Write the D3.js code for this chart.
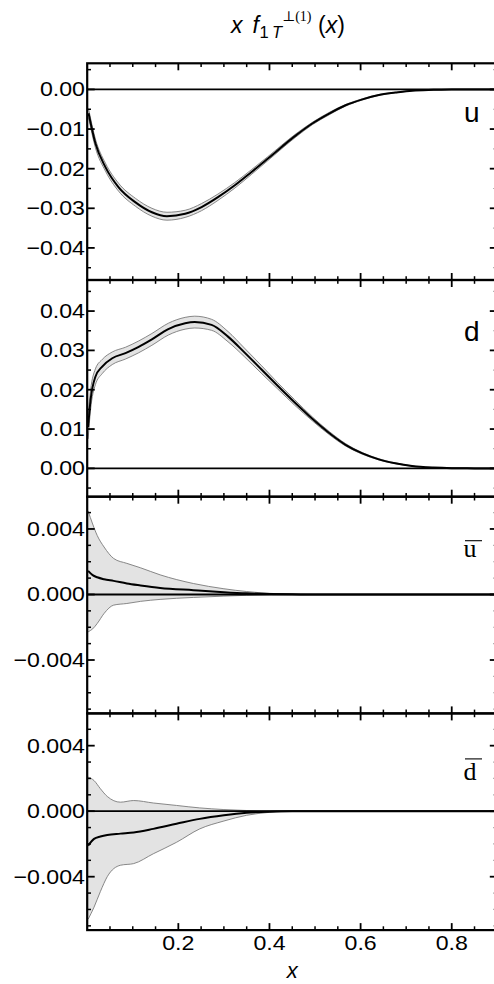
<!DOCTYPE html>
<html>
<head>
<meta charset="utf-8">
<script src="https://cdn.jsdelivr.net/npm/d3@7"></script>
<style>
  html, body { margin: 0; padding: 0; background: #fff; }
  svg { display: block; }
  text { font-family: "Liberation Sans", Arial, sans-serif; fill: #000; }
</style>
</head>
<body>
<svg id="chart" width="494" height="984"></svg>
<script>
// ---------------- data ----------------
// x f_1T^{perp(1)}(x), panel u
const uX   = [0.003, 0.018, 0.04, 0.069, 0.106, 0.142, 0.175, 0.215, 0.251, 0.287, 0.324, 0.36, 0.396, 0.458, 0.494, 0.531, 0.567, 0.604, 0.64, 0.676, 0.713, 0.76, 0.8, 0.85, 0.9];
const uMid = [-0.006, -0.0136, -0.0196, -0.0247, -0.0285, -0.031, -0.032, -0.0314, -0.0297, -0.0272, -0.0242, -0.0209, -0.0175, -0.0116, -0.0086, -0.0061, -0.004, -0.0025, -0.0014, -0.0008, -0.0003, -0.0001, 0, 0, 0];
const uErr = [0.0011, 0.0011, 0.001, 0.001, 0.001, 0.001, 0.001, 0.0009, 0.0009, 0.0008, 0.0007, 0.0006, 0.0005, 0.0004, 0.0003, 0.0003, 0.0002, 0.00015, 0.0001, 0.00005, 0.00003, 0.00001, 0, 0, 0];

// panel d
const dX   = [0.002, 0.0074, 0.018, 0.033, 0.055, 0.084, 0.113, 0.142, 0.178, 0.215, 0.236, 0.273, 0.309, 0.345, 0.382, 0.418, 0.455, 0.494, 0.531, 0.567, 0.604, 0.64, 0.676, 0.713, 0.76, 0.8, 0.85, 0.9];
const dMid = [0.0105, 0.0174, 0.0233, 0.0259, 0.028, 0.0293, 0.0309, 0.0328, 0.0354, 0.0369, 0.0372, 0.0365, 0.0335, 0.0295, 0.0252, 0.021, 0.0168, 0.0126, 0.009, 0.006, 0.0038, 0.0023, 0.0013, 0.0006, 0.0002, 0.00005, 0, 0];
const dErr = [0.003, 0.0025, 0.002, 0.0018, 0.0016, 0.0015, 0.0015, 0.0015, 0.0015, 0.0015, 0.0015, 0.0014, 0.0013, 0.0011, 0.001, 0.0008, 0.0007, 0.0005, 0.0004, 0.0003, 0.0002, 0.00015, 0.0001, 0.00005, 0.00002, 0, 0, 0];

// panel u-bar
const ubX   = [0.002, 0.012, 0.022, 0.037, 0.058, 0.087, 0.117, 0.16, 0.233, 0.3, 0.35, 0.4, 0.45, 0.5, 0.9];
const ubMid = [0.00144, 0.00118, 0.00105, 0.00093, 0.00083, 0.00067, 0.00055, 0.0004, 0.00026, 0.00014, 0.00007, 0.00003, 0.00001, 0, 0];
const ubHi  = [0.0051, 0.0043, 0.0036, 0.0029, 0.0022, 0.0019, 0.00163, 0.0012, 0.00067, 0.00035, 0.00018, 0.00007, 0.00002, 0, 0];
const ubLo  = [-0.00228, -0.0021, -0.00177, -0.00116, -0.00065, -0.00055, -0.00042, -0.0003, -0.00018, -0.0001, -0.00005, -0.00002, -0.00001, 0, 0];

// panel d-bar
const dbX   = [0.002, 0.015, 0.029, 0.044, 0.073, 0.102, 0.145, 0.196, 0.247, 0.3, 0.35, 0.4, 0.45, 0.9];
const dbMid = [-0.0021, -0.00169, -0.00155, -0.00145, -0.00137, -0.0013, -0.00108, -0.00077, -0.00047, -0.00025, -0.0001, -0.00003, 0, 0];
const dbHi  = [0.00208, 0.00187, 0.00137, 0.0009, 0.00055, 0.00065, 0.0005, 0.00035, 0.0002, 0.0001, 0.00004, 0.00001, 0, 0];
const dbLo  = [-0.0066, -0.00586, -0.0049, -0.004, -0.0033, -0.0032, -0.0026, -0.0019, -0.00108, -0.0006, -0.00025, -0.00007, 0, 0];

// axes
const xDomain = [0, 0.9];
const xTicksMajor = [0.2, 0.4, 0.6, 0.8];
const xTickLabels = ["0.2", "0.4", "0.6", "0.8"];
const yDomainU  = [-0.0481, 0.0066];
const yDomainD  = [-0.0072, 0.0479];
const yDomainSea = [-0.00726, 0.00597];
const yTicksU  = [0, -0.01, -0.02, -0.03, -0.04];
const yLabelsU = ["0.00", "\u22120.01", "\u22120.02", "\u22120.03", "\u22120.04"];
const yTicksD  = [0.04, 0.03, 0.02, 0.01, 0];
const yLabelsD = ["0.04", "0.03", "0.02", "0.01", "0.00"];
const yTicksSea  = [0.004, 0, -0.004];
const yLabelsSea = ["0.004", "0.000", "\u22120.004"];
const panelNames = ["u", "d", "u", "d"];

// ---------------- layout ----------------
const svg = d3.select("#chart");
const L = 87.2, R = 497.3;
const top0 = 63.3, pH = 216.7;
const x = d3.scaleLinear().domain(xDomain).range([L, R]);
const labelFont = 20.5, labelStretch = 1.13;

const panels = [
  { xs: uX,  mid: uMid,  lo: uMid.map((v,i)=>v-uErr[i]), hi: uMid.map((v,i)=>v+uErr[i]), dom: yDomainU, ticks: yTicksU, labels: yLabelsU, minorStep: 0.005, name: panelNames[0], bar: false },
  { xs: dX,  mid: dMid,  lo: dMid.map((v,i)=>v-dErr[i]), hi: dMid.map((v,i)=>v+dErr[i]), dom: yDomainD, ticks: yTicksD, labels: yLabelsD, minorStep: 0.005, name: panelNames[1], bar: false },
  { xs: ubX, mid: ubMid, lo: ubLo, hi: ubHi, dom: yDomainSea, ticks: yTicksSea, labels: yLabelsSea, minorStep: 0.001, name: panelNames[2], bar: true },
  { xs: dbX, mid: dbMid, lo: dbLo, hi: dbHi, dom: yDomainSea, ticks: yTicksSea, labels: yLabelsSea, minorStep: 0.001, name: panelNames[3], bar: true }
];

const defs = svg.append("defs");

panels.forEach((p, k) => {
  const t = top0 + k * pH, b = t + pH;
  const y = d3.scaleLinear().domain(p.dom).range([b, t]);
  const g = svg.append("g");
  defs.append("clipPath").attr("id", "clip" + k)
    .append("rect").attr("x", L).attr("y", t).attr("width", R - L).attr("height", pH);
  const pg = g.append("g").attr("clip-path", `url(#clip${k})`);
  const idx = d3.range(p.xs.length);
  const area = d3.area().curve(d3.curveMonotoneX)
    .x(i => x(p.xs[i])).y0(i => y(p.lo[i])).y1(i => y(p.hi[i]));
  pg.append("path").attr("d", area(idx)).attr("fill", "#e3e3e3").attr("stroke", "none");
  const lineLo = d3.line().curve(d3.curveMonotoneX).x(i => x(p.xs[i])).y(i => y(p.lo[i]));
  const lineHi = d3.line().curve(d3.curveMonotoneX).x(i => x(p.xs[i])).y(i => y(p.hi[i]));
  pg.append("path").attr("d", lineLo(idx)).attr("fill", "none").attr("stroke", "#7a7a7a").attr("stroke-width", 0.9);
  pg.append("path").attr("d", lineHi(idx)).attr("fill", "none").attr("stroke", "#7a7a7a").attr("stroke-width", 0.9);
  // zero line
  pg.append("line").attr("x1", L).attr("x2", R).attr("y1", y(0)).attr("y2", y(0))
    .attr("stroke", "#000").attr("stroke-width", 1.8);
  // central line
  const lineMid = d3.line().curve(d3.curveMonotoneX).x(i => x(p.xs[i])).y(i => y(p.mid[i]));
  pg.append("path").attr("d", lineMid(idx)).attr("fill", "none").attr("stroke", "#000").attr("stroke-width", 2);

  // frame
  g.append("rect").attr("x", L).attr("y", t).attr("width", R - L).attr("height", pH)
    .attr("fill", "none").attr("stroke", "#000").attr("stroke-width", 2.2);

  // x ticks (top & bottom, inward)
  const xMinor = d3.range(0.05, 0.9, 0.05).filter(v => !xTicksMajor.some(m => Math.abs(m - v) < 1e-6));
  xTicksMajor.forEach(v => {
    g.append("line").attr("x1", x(v)).attr("x2", x(v)).attr("y1", t).attr("y2", t + 7).attr("stroke", "#000").attr("stroke-width", 1.8);
    g.append("line").attr("x1", x(v)).attr("x2", x(v)).attr("y1", b).attr("y2", b - 7).attr("stroke", "#000").attr("stroke-width", 1.8);
  });
  xMinor.forEach(v => {
    g.append("line").attr("x1", x(v)).attr("x2", x(v)).attr("y1", t).attr("y2", t + 3.8).attr("stroke", "#000").attr("stroke-width", 1.5);
    g.append("line").attr("x1", x(v)).attr("x2", x(v)).attr("y1", b).attr("y2", b - 3.8).attr("stroke", "#000").attr("stroke-width", 1.5);
  });

  // y ticks (left & right, inward)
  const yMin = p.dom[0], yMax = p.dom[1];
  const n0 = Math.ceil(yMin / p.minorStep - 1e-9), n1 = Math.floor(yMax / p.minorStep + 1e-9);
  d3.range(n0, n1 + 1).map(n => n * p.minorStep).forEach(v => {
    const isMajor = p.ticks.some(m => Math.abs(m - v) < 1e-9);
    const len = isMajor ? 7.5 : 3.8;
    g.append("line").attr("x1", L).attr("x2", L + len).attr("y1", y(v)).attr("y2", y(v)).attr("stroke", "#000").attr("stroke-width", isMajor ? 1.8 : 1.5);
    g.append("line").attr("x1", R).attr("x2", R - len).attr("y1", y(v)).attr("y2", y(v)).attr("stroke", isMajor ? "#000" : "#666").attr("stroke-width", isMajor ? 1.8 : 1.2);
  });
  p.ticks.forEach((v, i) => {
    g.append("text").attr("transform", `translate(85,${y(v) + 7}) scale(${labelStretch},1)`)
      .attr("text-anchor", "end").attr("font-size", labelFont).text(p.labels[i]);
  });

  // panel label
  if (!p.bar) {
    g.append("text").attr("x", 464).attr("y", t + (k === 0 ? 59 : 60.5)).attr("font-size", 28).text(p.name);
  } else {
    const by = k === 2 ? t + 60.5 : t + 67;
    g.append("text").attr("x", 463.5).attr("y", by).attr("font-size", 26)
      .style("font-family", "'Liberation Serif', 'DejaVu Serif', serif").text(p.name);
    const oy = k === 2 ? by - 16.5 : by - 21.5;
    g.append("line").attr("x1", 465).attr("x2", 482).attr("y1", oy).attr("y2", oy).attr("stroke", "#000").attr("stroke-width", 1.1);
  }
});

// bottom tick labels
const bottom = top0 + 4 * pH;
xTicksMajor.forEach((v, i) => {
  svg.append("text").attr("transform", `translate(${x(v)},${bottom + 20}) scale(${labelStretch},1)`)
    .attr("text-anchor", "middle").attr("font-size", labelFont).text(xTickLabels[i]);
});
svg.append("text").attr("x", (L + R) / 2).attr("y", 978).attr("text-anchor", "middle")
  .attr("font-size", 22).attr("font-style", "italic").text("x");

// title
const title = svg.append("g");
title.append("text").attr("x", 231).attr("y", 33.3).attr("font-size", 23).attr("font-style", "italic").text("x");
title.append("text").attr("x", 252.5).attr("y", 33.3).attr("font-size", 23).attr("font-style", "italic").text("f");
title.append("text").attr("x", 259.5).attr("y", 38.3).attr("font-size", 16.5).text("1");
title.append("text").attr("x", 272).attr("y", 38.3).attr("font-size", 16.5).attr("font-style", "italic").text("T");
title.append("text").attr("x", 282).attr("y", 21).attr("font-size", 14)
  .style("font-family", "'Liberation Serif', 'DejaVu Serif', serif").text("\u22A5(1)");
title.append("text").attr("x", 318).attr("y", 33.3).attr("font-size", 23)
  .html('(<tspan font-style="italic">x</tspan>)');
</script>
</body>
</html>
